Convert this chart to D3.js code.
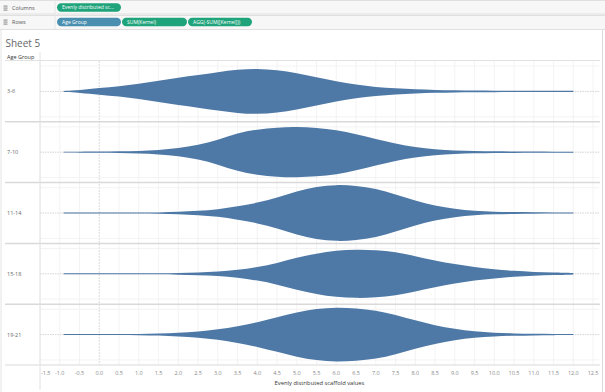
<!DOCTYPE html>
<html><head><meta charset="utf-8">
<script src="https://cdn.jsdelivr.net/npm/d3@7"></script>
<style>body{margin:0;background:#fff;font-family:"Open Sans","Noto Sans",sans-serif}</style>
</head><body><svg id="c" width="605" height="392"></svg>
<script>
const groups = ["3-6","7-10","11-14","15-18","19-21"];
const scaffold = [-0.9,-0.5,0,0.5,1,1.5,2,2.5,3,3.5,4,4.5,5,5.5,6,6.5,7,7.5,8,8.5,9,9.5,10,10.5,11,11.5,12];
const kernel_3_6   = [.005,.013,.033,.05,.075,.105,.135,.16,.19,.215,.225,.21,.18,.14,.10,.065,.043,.03,.02,.014,.01,.008,.007,.007,.006,.006,.006];
const kernel_7_10  = [.004,.005,.006,.008,.012,.02,.038,.07,.12,.19,.225,.245,.25,.24,.22,.18,.13,.085,.05,.028,.016,.011,.008,.007,.006,.005,.005];
const kernel_11_14 = [.005,.005,.005,.005,.005,.005,.012,.02,.035,.065,.10,.15,.215,.26,.28,.27,.24,.185,.12,.07,.04,.02,.012,.009,.007,.006,.005];
const kernel_15_18 = [.005,.005,.005,.005,.005,.005,.008,.013,.02,.038,.065,.105,.16,.20,.23,.24,.235,.215,.175,.13,.095,.065,.045,.028,.018,.012,.008];
const kernel_19_21 = [.005,.005,.005,.005,.005,.009,.018,.03,.05,.08,.12,.17,.22,.255,.27,.26,.24,.195,.14,.09,.055,.03,.017,.011,.008,.006,.005];
const kernels = [kernel_3_6, kernel_7_10, kernel_11_14, kernel_15_18, kernel_19_21];
const xTicks = d3.range(-1.5, 12.51, 0.5);
const shelfColumns = ["Evenly distributed sc..."];
const shelfRows = ["Age Group","SUM(Kernel)","AGG(-SUM([Kernel]))"];
const axisTitle = "Evenly distributed scaffold values";

const svg = d3.select("#c");
const W = 605, H = 392;
const paneL = 40, paneR = 599, paneT = 61, paneB = 365;
const x = d3.scaleLinear().domain([-1.5, 12.65]).range([paneL, paneR]);
const band = d3.scaleBand().domain(groups).range([paneT, paneB]);

// --- Shelves ---
svg.append("rect").attr("x",0).attr("y",0).attr("width",W).attr("height",30).attr("fill","#f7f7f7");
[0.5,14,15.5,29.5].forEach(y=>svg.append("line").attr("x1",0).attr("x2",W).attr("y1",y).attr("y2",y).attr("stroke","#e0e0e0"));
svg.append("line").attr("x1",55).attr("x2",55).attr("y1",1).attr("y2",29).attr("stroke","#e6e6e6");
function shelfIcon(y){
  const g = svg.append("g").attr("transform",`translate(3.5,${y})`);
  [0,2,4].forEach(d=>g.append("rect").attr("x",0).attr("y",d).attr("width",4).attr("height",1.2).attr("fill","#999"));
}
shelfIcon(5.5); shelfIcon(19.5);
svg.append("text").attr("x",12).attr("y",9.5).attr("font-size",5.5).attr("fill","#555").text("Columns");
svg.append("text").attr("x",12).attr("y",24).attr("font-size",5.5).attr("fill","#555").text("Rows");
function pill(x0,w,y0,color,label){
  svg.append("rect").attr("x",x0).attr("y",y0).attr("width",w).attr("height",8.5).attr("rx",4.2).attr("fill",color);
  svg.append("text").attr("x",x0+5).attr("y",y0+6.2).attr("font-size",5).attr("fill","#fff").text(label);
}
pill(57,64,3.2,"#1ea37a",shelfColumns[0]);
pill(57,64,17.8,"#4a8fb0",shelfRows[0]);
pill(122,65,17.8,"#1ea37a",shelfRows[1]);
pill(188,64,17.8,"#1ea37a",shelfRows[2]);

// borders
svg.append("line").attr("x1",1).attr("x2",1).attr("y1",30).attr("y2",H).attr("stroke","#e4e4e4");
svg.append("line").attr("x1",602.5).attr("x2",602.5).attr("y1",30).attr("y2",H).attr("stroke","#dcdcdc");

// title
svg.append("text").attr("x",5.5).attr("y",46.5).attr("font-size",10).attr("fill","#666").text("Sheet 5");
svg.append("text").attr("x",7).attr("y",59).attr("font-size",5.5).attr("fill","#333").text("Age Group");

// vertical gridlines
svg.append("g").selectAll("line").data(xTicks).join("line")
  .attr("x1",d=>x(d)).attr("x2",d=>x(d)).attr("y1",paneT).attr("y2",paneB)
  .attr("stroke",d=>d===0?"#d0d0d0":"#f0f0f0")
  .attr("stroke-dasharray",d=>d===0?"2,1":null).attr("stroke-width",0.8);

// rows
groups.forEach((gname,i)=>{
  const top = band(gname), bot = top + band.bandwidth();
  const y = d3.scaleLinear().domain([-0.3,0.3]).range([bot, top]);
  const g = svg.append("g");
  [-0.25,0.25].forEach(v=>g.append("line").attr("x1",paneL).attr("x2",paneR).attr("y1",y(v)).attr("y2",y(v)).attr("stroke","#f0f0f0").attr("stroke-width",0.8));
  // zero line dotted
  g.append("line").attr("x1",paneL).attr("x2",paneR).attr("y1",y(0)).attr("y2",y(0))
    .attr("stroke","#c8c8c8").attr("stroke-width",0.8).attr("stroke-dasharray","1.5,1");
  const pts = scaffold.map((s,j)=>({s, k:kernels[i][j]}));
  const area = d3.area().x(d=>x(d.s)).y0(d=>y(-d.k)).y1(d=>y(d.k)).curve(d3.curveBasis);
  g.append("path").attr("d",area(pts)).attr("fill","#4e79a7");
  svg.append("text").attr("x",7).attr("y",y(0)+2).attr("font-size",5.5).attr("fill","#666").text(gname);
});

// row separators
groups.slice(1).forEach(gname=>{
  svg.append("line").attr("x1",5).attr("x2",paneR+1).attr("y1",band(gname)).attr("y2",band(gname)).attr("stroke","#d9d9d9").attr("stroke-width",1.5);
});
svg.append("line").attr("x1",5).attr("x2",paneR+1).attr("y1",paneT-0.5).attr("y2",paneT-0.5).attr("stroke","#e2e2e2").attr("stroke-width",1);
svg.append("line").attr("x1",5).attr("x2",paneR+1).attr("y1",paneB).attr("y2",paneB).attr("stroke","#d9d9d9").attr("stroke-width",1.2);
svg.append("line").attr("x1",paneL).attr("x2",paneL).attr("y1",52).attr("y2",390).attr("stroke","#e2e2e2").attr("stroke-width",1);

// x axis
const fmt = v => (v<0?"-":"") + Math.abs(v).toFixed(1);
svg.append("g").selectAll("text").data(xTicks).join("text")
  .attr("x",d=> d===-1.5 ? x(d)+1 : (d===12.5 ? Math.min(x(d),600) : x(d)))
  .attr("text-anchor",d=> d===-1.5 ? "start" : (d===12.5 && x(d)>594 ? "end":"middle"))
  .attr("y",374.5).attr("font-size",5.5).attr("fill","#888").text(fmt);
svg.append("text").attr("x",(paneL+paneR)/2).attr("y",385).attr("text-anchor","middle")
  .attr("font-size",5.8).attr("fill","#333").text(axisTitle);
</script></body></html>
